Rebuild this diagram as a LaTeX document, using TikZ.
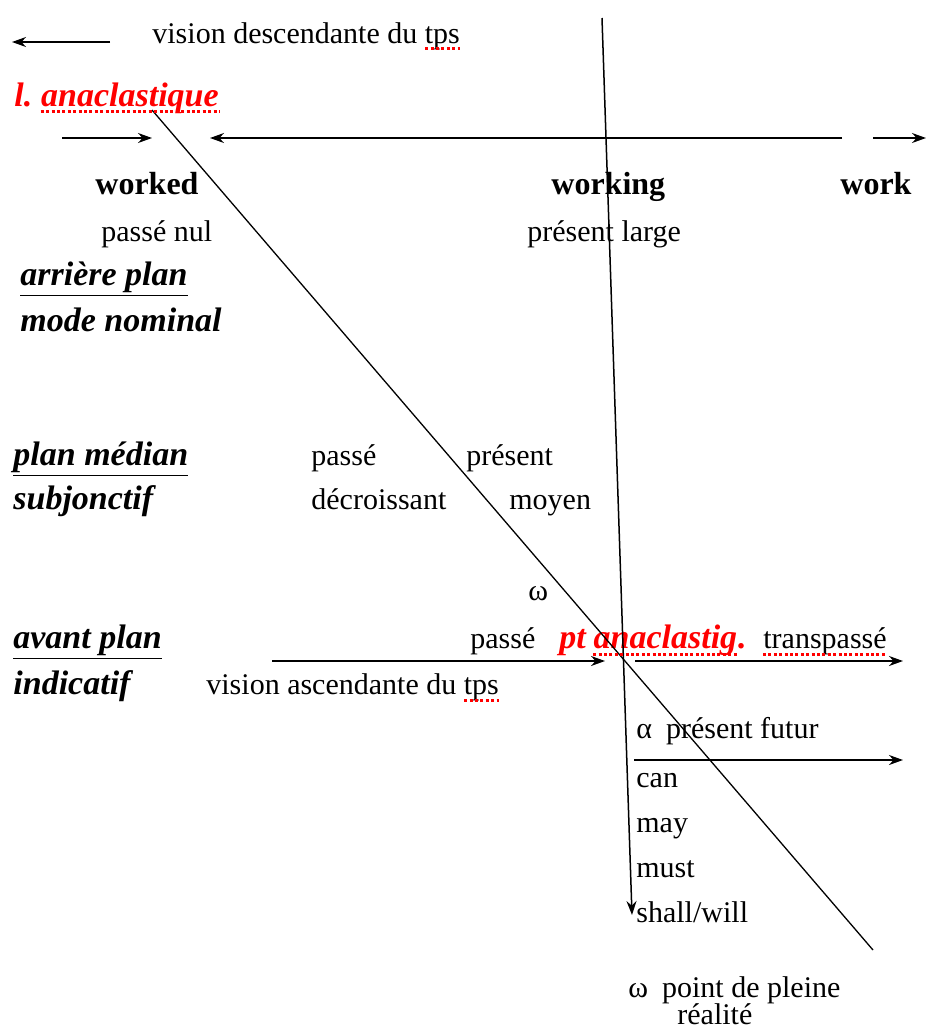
\documentclass[tikz,border=0pt]{standalone}
\usepackage{fontspec}
\setmainfont{Liberation Serif}
\usetikzlibrary{arrows.meta}
\tikzset{
  txt/.style={anchor=base west, inner sep=0pt, font=\fontsize{15}{17}\selectfont},
  verbe/.style={txt, font=\fontsize{16}{18}\selectfont\bfseries},
  plan/.style={txt, font=\fontsize{17}{19}\selectfont\bfseries\itshape},
  rouge/.style={plan, text=red},
  fleche/.style={-{Stealth[length=7pt,width=5pt]}, line width=0.75pt},
  trait/.style={line width=0.65pt},
  souligne/.style={red, line width=1.5pt, dash pattern=on 1.5pt off 1.2pt},
}
\begin{document}
\begin{tikzpicture}[x=0.5pt, y=-0.5pt]
      \useasboundingbox (0,0) rectangle (927,1029);
      %
      \node[txt] (desc) at (152,43) {vision descendante du tps};
      \node[rouge] (l) at (14,106) {l.};
      \node[rouge, anchor=base west] (ana) at ([xshift=4pt]l.base east) {anaclastique};
      %
      \node[verbe] (worked) at (95,194) {worked};
      \node[verbe] (working) at (551,194) {working};
      \node[verbe] (work) at (840,194) {work};
      \node[txt] (nul) at (101,241) {passé nul};
      \node[txt] (large) at (527,241) {présent large};
      %
      \node[plan] (arriere) at (20,285) {\underline{arrière plan}};
      \node[plan] (nominal) at (20,331) {mode nominal};
      %
      \node[plan] (median) at (13,465) {\underline{plan médian}};
      \node[txt] (passeA) at (311,465) {passé};
      \node[txt] (presA) at (466,465) {présent};
      \node[plan] (subj) at (13,509) {subjonctif};
      \node[txt] (decr) at (311,509) {décroissant};
      \node[txt] (moyen) at (509,509) {moyen};
      \node[txt] (omegaA) at (528,600) {ω};
      %
      \node[plan] (avant) at (13,648) {\underline{avant plan}};
      \node[txt] (passeB) at (470,648) {passé};
      \node[rouge] (pt) at (559,648) {pt};
      \node[rouge, anchor=base west] (anag) at ([xshift=3.5pt]pt.base east) {anaclastig};
      \node[rouge, anchor=base west] (point) at (anag.base east) {.};
      \node[txt] (trans) at (763,648) {transpassé};
      \node[plan] (indic) at (13,694) {indicatif};
      \node[txt] (asc) at (206,694) {vision ascendante du tps};
      %
      \node[txt] (futur) at (636,738) {α\hspace{7pt}présent futur};
      \node[txt] (can) at (636,787) {can};
      \node[txt] (may) at (636,832) {may};
      \node[txt] (must) at (636,877) {must};
      \node[txt] (shall) at (636,922) {shall/will};
      \node[txt] (omegaB) at (628,997) {ω\hspace{7pt}point de pleine};
      \node[txt] (real) at (677,1024) {réalité};
      %
      \coordinate (hA) at (110,42);  \coordinate (hB) at (12,42);
      \coordinate (rA) at (62,138);  \coordinate (rB) at (152,138);
      \coordinate (rC) at (842,138); \coordinate (rD) at (210,138);
      \coordinate (rE) at (873,138); \coordinate (rF) at (926,138);
      \coordinate (iA) at (272,661); \coordinate (iB) at (605,661);
      \coordinate (iC) at (635,661); \coordinate (iD) at (903,661);
      \coordinate (fA) at (634,760); \coordinate (fB) at (903,760);
      \coordinate (dA) at (152,110); \coordinate (dB) at (873,950);
      \coordinate (vA) at (602,18);  \coordinate (vB) at (632,915);
      %
      \draw[fleche] (hA) -- (hB);
      \draw[fleche] (rA) -- (rB);
      \draw[fleche] (rC) -- (rD);
      \draw[fleche] (rE) -- (rF);
      \draw[fleche] (iA) -- (iB);
      \draw[fleche] (iC) -- (iD);
      \draw[fleche] (fA) -- (fB);
      \draw[trait] (dA) -- (dB);
      \draw[fleche] (vA) -- (vB);
      %
      \draw[souligne] ([xshift=-17.5pt,yshift=-2.5pt]desc.base east) -- ([yshift=-2.5pt]desc.base east);
      \draw[souligne] ([yshift=-2.5pt]ana.base west) -- ([yshift=-2.5pt]ana.base east);
      \draw[souligne] ([yshift=-3pt]anag.base west) -- ([yshift=-3pt]anag.base east);
      \draw[souligne] ([yshift=-3pt]trans.base west) -- ([yshift=-3pt]trans.base east);
      \draw[souligne] ([xshift=-17.5pt,yshift=-3pt]asc.base east) -- ([yshift=-3pt]asc.base east);
      %
    \end{tikzpicture}
\end{document}
